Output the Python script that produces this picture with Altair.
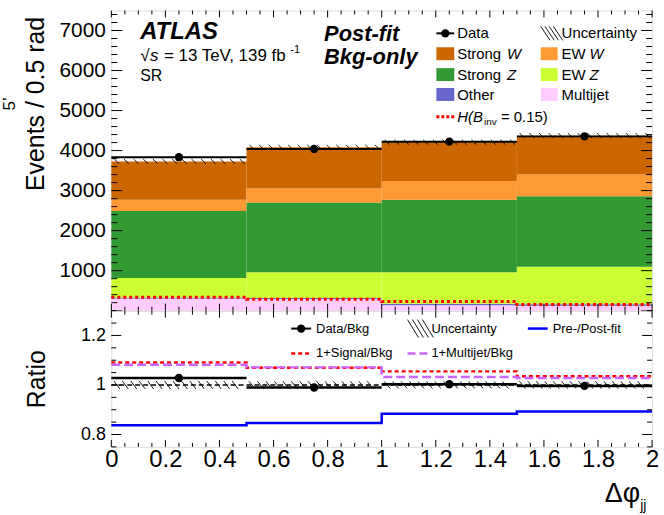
import altair as alt
import numpy as np
import pandas as pd

FONT = "Liberation Sans"

# Delta-phi_jj binning
bin_lo = [0.0, 0.5, 1.0, 1.5]
bin_hi = [0.5, 1.0, 1.5, 2.0]

# post-fit background yields per bin, bottom of the stack first
multijet = [305, 290, 135, 125]
other = [25, 30, 40, 35]
ew_z = [488, 639, 784, 939]
strong_z = [1670, 1743, 1810, 1761]
ew_w = [281, 348, 471, 545]
strong_w = [961, 1033, 970, 967]

data_obs = [3835, 4041, 4223, 4355]
bkg_unc = [60, 60, 60, 65]
signal = [338, 283, 231, 152]           # H(B_inv = 0.15)
prefit_ratio = [0.837, 0.846, 0.884, 0.893]

proc_names = ["Multijet", "Other", "EW Z", "Strong Z", "EW W", "Strong W"]
proc_colors = ["#ffccff", "#6666cc", "#ccff33", "#339933", "#ff9933", "#cc6600"]
proc_yields = [multijet, other, ew_z, strong_z, ew_w, strong_w]

# axis tick values
x_major = [0, 0.2, 0.4, 0.6, 0.8, 1.0, 1.2, 1.4, 1.6, 1.8, 2.0]
x_minor = [v for v in np.round(np.arange(0, 2.0001, 0.05), 3) if round(v / 0.2, 6) % 1 != 0]
ev_major = [0, 1000, 2000, 3000, 4000, 5000, 6000, 7000]
ev_labels = [1000, 2000, 3000, 4000, 5000, 6000, 7000]
ev_minor = [v for v in range(0, 7500, 200) if v % 1000 != 0]
r_major = [0.8, 1.0, 1.2]
r_minor = [v for v in np.round(np.arange(0.75, 1.3001, 0.05), 3) if v not in (0.8, 1.0, 1.2)]

W, H_TOP, H_RAT = 544, 302, 137
# page margins around the two panels
M_LEFT, M_TOP, M_RIGHT, M_BOTTOM = 109, 8, 11, 68

xsc = alt.Scale(domain=[0, 2], nice=False, zero=False)
ysc_top = alt.Scale(domain=[0, 7500], nice=False, zero=False)
ysc_rat = alt.Scale(domain=[0.75, 1.3], nice=False, zero=False)

# shared axis definitions (every layer of a panel uses the same one)
AX_COMMON = dict(ticks=False, domain=False, grid=False, labelFlush=False,
                 labelOverlap=False, labelFont=FONT, titleFont=FONT,
                 labelColor="black", titleColor="black")
y_axis_top = alt.Axis(
    values=ev_labels, format="d", labelFontSize=21, labelPadding=6,
    title="Events / 0.5 rad", titleFontSize=25, titleFontWeight="normal",
    titleAngle=270, titleAlign="right", titleBaseline="middle",
    titleX=-76, titleY=6, **AX_COMMON)
y_axis_rat = alt.Axis(
    values=r_major, format="~g", labelFontSize=18, labelPadding=6,
    title="Ratio", titleFontSize=25, titleFontWeight="normal",
    titleAngle=270, titleAlign="center", titleBaseline="middle",
    titleX=-75, titleY=H_RAT / 2, **AX_COMMON)
x_axis_rat = alt.Axis(
    values=x_major, format="~g", labelFontSize=24, labelPadding=1, title=None,
    **AX_COMMON)

one = pd.DataFrame({"k": [0]})

# ---------- derived tables ----------
rows = []
for b in range(len(bin_lo)):
    base = 0
    for name, ylds in zip(proc_names, proc_yields):
        rows.append(dict(lo=bin_lo[b], hi=bin_hi[b], proc=name, y0=base, y1=base + ylds[b]))
        base += ylds[b]
stack_df = pd.DataFrame(rows)

bkg = np.sum(np.array(proc_yields), axis=0)
centers = [(a + b) / 2 for a, b in zip(bin_lo, bin_hi)]

data_df = pd.DataFrame({"lo": bin_lo, "hi": bin_hi, "c": centers, "y": data_obs})
ratio_df = pd.DataFrame({"lo": bin_lo, "hi": bin_hi, "c": centers,
                         "y": np.array(data_obs) / bkg})

step_x = bin_lo + [bin_hi[-1]]


def step_df(vals):
    vals = list(vals)
    return pd.DataFrame({"x": step_x, "y": vals + [vals[-1]]})


def hatch_df(lower, upper, step, dx):
    segs = []
    for lo, hi, l, u in zip(bin_lo, bin_hi, lower, upper):
        x = lo + step * 0.3
        while x + dx <= hi + 1e-9:
            segs.append(dict(x=x, x2=x + dx, y=u, y2=l))
            x += step
    return pd.DataFrame(segs)


top_hatch = hatch_df(bkg - np.array(bkg_unc), bkg + np.array(bkg_unc), 0.5 / 14, 0.018)
rel_unc = np.array(bkg_unc) / bkg
rat_hatch = hatch_df(1 - rel_unc, 1 + rel_unc, 0.5 / 16, 0.022)


# encoding shortcuts for the two panels
def XT(f):
    return alt.X(f, type="quantitative", scale=xsc, axis=None)


def YT(f):
    return alt.Y(f, type="quantitative", scale=ysc_top, axis=y_axis_top)


def XR(f):
    return alt.X(f, type="quantitative", scale=xsc, axis=x_axis_rat)


def YR(f):
    return alt.Y(f, type="quantitative", scale=ysc_rat, axis=y_axis_rat)


# ---------- helpers ----------
def txt(s, x, y, size, align="left", baseline="middle", weight="normal",
        style="normal", color="black", angle=0):
    return alt.Chart(one).mark_text(
        text=s, align=align, baseline=baseline, font=FONT, fontSize=size,
        fontWeight=weight, fontStyle=style, color=color, angle=angle
    ).encode(x=alt.value(x), y=alt.value(y))


def box(x0, x1, y0, y1, color, opacity=1.0):
    return alt.Chart(one).mark_rect(color=color, opacity=opacity).encode(
        x=alt.value(x0), x2=alt.value(x1), y=alt.value(y0), y2=alt.value(y1))


def seg(x0, y0, x1, y1, color="black", width=1.0, dash=None):
    kw = dict(color=color, strokeWidth=width)
    if dash:
        kw["strokeDash"] = dash
    return alt.Chart(one).mark_rule(**kw).encode(
        x=alt.value(x0), x2=alt.value(x1), y=alt.value(y0), y2=alt.value(y1))


def dot(x, y, size=70):
    return alt.Chart(one).mark_circle(color="black", opacity=1, size=size).encode(
        x=alt.value(x), y=alt.value(y))


def hatch_swatch(x0, y0, x1, y1):
    out = []
    n = 4
    for k in range(n):
        a = x0 + k * (x1 - x0) / n
        out.append(seg(a, y0, a + (x1 - x0) * 0.55, y1, width=0.9))
    return out


def frame_ticks(Xenc, Yenc, yvals_major, yvals_minor, ylen_major, ylen_minor,
                xlen_major, xlen_minor, height):
    layers = []
    for vals, ln in ((yvals_major, ylen_major), (yvals_minor, ylen_minor)):
        d = pd.DataFrame({"v": vals})
        base = alt.Chart(d).mark_rule(color="black", strokeWidth=1)
        layers.append(base.encode(y=Yenc("v"), x=alt.value(0), x2=alt.value(ln)))
        layers.append(base.encode(y=Yenc("v"), x=alt.value(W), x2=alt.value(W - ln)))
    for vals, ln in ((x_major, xlen_major), (x_minor, xlen_minor)):
        d = pd.DataFrame({"v": vals})
        base = alt.Chart(d).mark_rule(color="black", strokeWidth=1)
        layers.append(base.encode(x=Xenc("v"), y=alt.value(height),
                                  y2=alt.value(height - ln)))
        layers.append(base.encode(x=Xenc("v"), y=alt.value(0), y2=alt.value(ln)))
    return layers


# ---------- upper panel: event yields ----------
stack = alt.Chart(stack_df).mark_rect(strokeWidth=0).encode(
    x=XT("lo"), x2="hi", y=YT("y0"), y2="y1",
    color=alt.Color("proc:N", scale=alt.Scale(domain=proc_names, range=proc_colors),
                    legend=None),
)

top_hatch_layer = alt.Chart(top_hatch).mark_rule(color="black", strokeWidth=0.9).encode(
    x=XT("x"), x2="x2", y=YT("y"), y2="y2")

sig_line = alt.Chart(step_df(signal)).mark_line(
    interpolate="step-after", color="#ff0000", strokeWidth=3, strokeDash=[3, 3]
).encode(x=XT("x"), y=YT("y"))

data_bar = alt.Chart(data_df).mark_rule(color="black", strokeWidth=2).encode(
    x=XT("lo"), x2="hi", y=YT("y"))
data_pts = alt.Chart(data_df).mark_circle(color="black", opacity=1, size=70).encode(
    x=XT("c"), y=YT("y"))

top_text = [
    txt("ATLAS", 29, 22, 24, weight="bold", style="italic"),
    txt("\u221a", 29, 46, 17),
    txt("s", 39, 46, 17, style="italic"),
    txt("= 13 TeV, 139 fb", 53, 46, 17),
    txt("-1", 180, 40, 11),
    txt("SR", 29, 66, 16),
    txt("Post-fit", 214, 24, 22, weight="bold", style="italic"),
    txt("Bkg-only", 214, 47, 22, weight="bold", style="italic"),
]

# legend, two columns
c1s, c1e, c1t = 327, 345, 348
c2s, c2e, c2t = 432, 449, 453
r = [23, 44, 65, 85, 107]
legend = [
    seg(c1s, r[0], c1e, r[0], width=2), dot((c1s + c1e) / 2, r[0]),
    txt("Data", c1t, r[0], 15),
    *hatch_swatch(c2s, r[0] - 7, c2e, r[0] + 7),
    txt("Uncertainty", c2t, r[0], 15),
    box(c1s, c1e, r[1] - 7, r[1] + 6, "#cc6600"),
    txt("Strong", c1t, r[1], 15), txt("W", c1t + 50, r[1], 15, style="italic"),
    box(c2s, c2e, r[1] - 7, r[1] + 6, "#ff9933"),
    txt("EW", c2t, r[1], 15), txt("W", c2t + 28, r[1], 15, style="italic"),
    box(c1s, c1e, r[2] - 7, r[2] + 6, "#339933"),
    txt("Strong", c1t, r[2], 15), txt("Z", c1t + 50, r[2], 15, style="italic"),
    box(c2s, c2e, r[2] - 7, r[2] + 6, "#ccff33"),
    txt("EW", c2t, r[2], 15), txt("Z", c2t + 28, r[2], 15, style="italic"),
    box(c1s, c1e, r[3] - 7, r[3] + 6, "#6666cc"),
    txt("Other", c1t, r[3], 15),
    box(c2s, c2e, r[3] - 7, r[3] + 6, "#ffccff"),
    txt("Multijet", c2t, r[3], 15),
    seg(c1s, r[4], c1e, r[4], color="#ff0000", width=3, dash=[3, 2]),
    txt("H(B", c1t, r[4], 15, style="italic"),
    txt("inv", c1t + 27, r[4] + 5, 10),
    txt("= 0.15)", c1t + 44, r[4], 15),
]

stray = txt("5\u2019", -102, 94, 17, angle=270, align="center")

# transparent extent box fixing the page margin above and left of the panels
top_extent = box(-M_LEFT, W + M_RIGHT, -M_TOP, H_TOP, "white", opacity=0)

top = alt.layer(
    top_extent, stack, top_hatch_layer, sig_line, data_bar, data_pts,
    *frame_ticks(XT, YT, ev_major, ev_minor, 11, 6, 7, 4, H_TOP),
    *top_text, *legend, stray,
).properties(width=W, height=H_TOP)

# ---------- lower panel: ratios ----------
rat_hatch_layer = alt.Chart(rat_hatch).mark_rule(color="black", strokeWidth=0.9).encode(
    x=XR("x"), x2="x2", y=YR("y"), y2="y2")

unity = alt.Chart(pd.DataFrame({"v": [1.0]})).mark_rule(
    color="black", strokeWidth=1.5, strokeDash=[5, 3]
).encode(y=YR("v"), x=alt.value(0), x2=alt.value(W))

rat_bar = alt.Chart(ratio_df).mark_rule(color="black", strokeWidth=2.5).encode(
    x=XR("lo"), x2="hi", y=YR("y"))
rat_pts = alt.Chart(ratio_df).mark_circle(color="black", opacity=1, size=70).encode(
    x=XR("c"), y=YR("y"))


def ratio_step(vals, **kw):
    return alt.Chart(step_df(vals)).mark_line(interpolate="step-after", **kw).encode(
        x=XR("x"), y=YR("y"))


sig_ratio = ratio_step(1 + np.array(signal) / bkg, color="#ff0000", strokeWidth=2.5,
                       strokeDash=[4, 3])
mj_ratio = ratio_step(1 + np.array(multijet) / bkg, color="#cc66ff", strokeWidth=2.5,
                      strokeDash=[9, 4])
pre_ratio = ratio_step(prefit_ratio, color="#0000ff", strokeWidth=2.5)

q1, q2 = 18, 43
rat_legend = [
    seg(181, q1, 201, q1, width=2), dot(191, q1),
    txt("Data/Bkg", 206, q1, 13),
    *hatch_swatch(298, q1 - 9, 318, q1 + 9),
    txt("Uncertainty", 322, q1, 13),
    seg(419, q1, 439, q1, color="#0000ff", width=2.5),
    txt("Pre-/Post-fit", 444, q1, 13),
    seg(181, q2, 201, q2, color="#ff0000", width=2.5, dash=[4, 3]),
    txt("1+Signal/Bkg", 206, q2, 13),
    seg(298, q2, 318, q2, color="#cc66ff", width=2.5, dash=[8, 4]),
    txt("1+Multijet/Bkg", 322, q2, 13),
]

xtitle = [
    txt("\u0394\u03c6", 532, 184, 27, align="right"),
    txt("jj", 532, 204, 14, baseline="bottom"),
]

# transparent extent box fixing the page margin below and right of the panels
rat_extent = box(-M_LEFT, W + M_RIGHT, 0, H_RAT + M_BOTTOM, "white", opacity=0)

ratio = alt.layer(
    rat_extent, rat_hatch_layer, unity, rat_bar, rat_pts, sig_ratio, mj_ratio, pre_ratio,
    *frame_ticks(XR, YR, r_major, r_minor, 10, 5, 7, 4, H_RAT),
    *rat_legend, *xtitle,
).properties(width=W, height=H_RAT)

chart = alt.vconcat(top, ratio, spacing=0, bounds="flush").properties(
    padding=0,
).configure_view(stroke="black", strokeWidth=2).configure(background="white")

chart.save("out.html", embed_options={"renderer": "svg", "actions": False})
